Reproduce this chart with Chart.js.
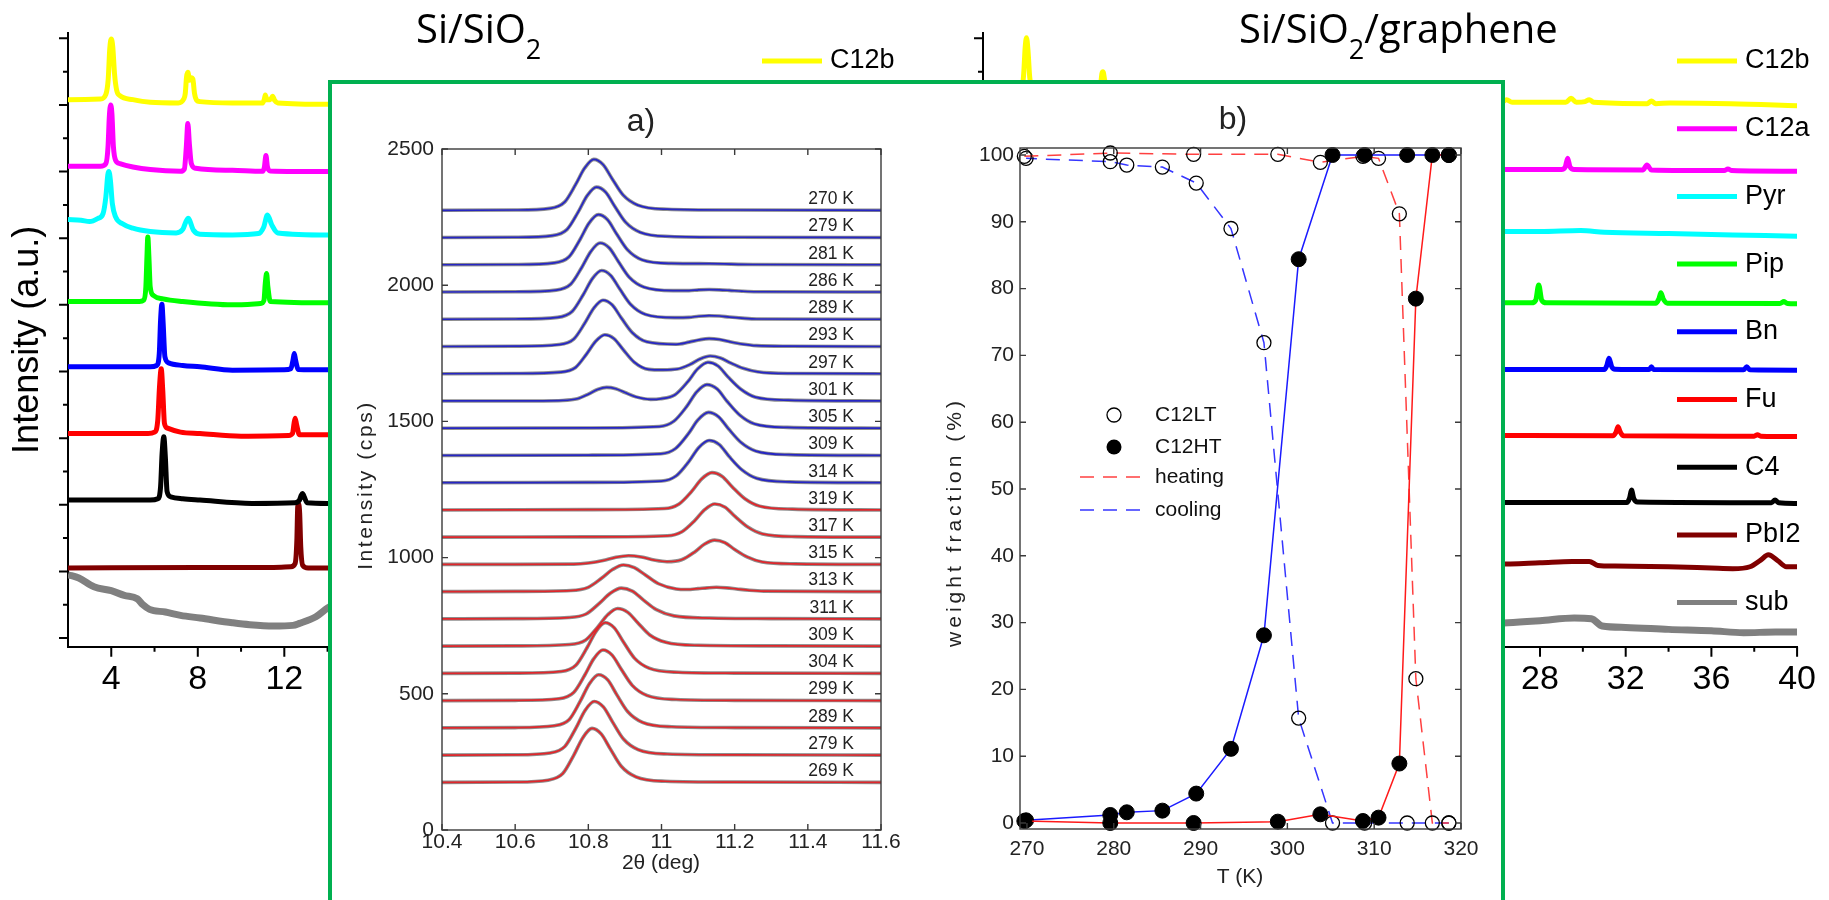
<!DOCTYPE html>
<html>
<head>
<meta charset="utf-8">
<script src="https://cdn.jsdelivr.net/npm/chart.js@4.4.1/dist/chart.umd.min.js"></script>
<style>
  body { margin: 0; width: 1829px; height: 900px; overflow: hidden; background: #fff; position: relative; }
  canvas { position: absolute; }
  #xrdLeft, #xrdRight { z-index: 1; }
  #inset { position: absolute; left: 328px; top: 80px; width: 1177px; height: 840px; border: 4px solid #00b050; box-sizing: border-box; background: #fff; z-index: 2; }
  #panelA, #panelB { z-index: 3; }
</style>
</head>
<body>
<canvas id="xrdLeft" width="960" height="720" style="left:0;top:0"></canvas>
<canvas id="xrdRight" width="914" height="720" style="left:915px;top:0"></canvas>
<div id="inset"></div>
<canvas id="panelA" width="570" height="810" style="left:340px;top:90px"></canvas>
<canvas id="panelB" width="590" height="810" style="left:905px;top:90px"></canvas>
<script>
// ---------- background XRD panels: [2theta (deg), intensity offset (a.u.)] ----------
const xrdNames = ['C12b', 'C12a', 'Pyr', 'Pip', 'Bn', 'Fu', 'C4', 'PbI2', 'sub'];
const xrdTickX = [4, 8, 12, 16, 20, 24, 28, 32, 36, 40];
const xrdTickY0 = 0.13; // first y tick above the x axis

// Si/SiO2 (only the part left of the inset is visible)
const siC12b = [[2,8.21],[3.5,8.22],[3.75,8.29],[3.86,8.52],[3.93,8.97],[4.0,9.12],[4.07,9.0],[4.15,8.6],[4.25,8.35],[4.4,8.27],[5,8.21],[5.8,8.17],[7.1,8.16],[7.35,8.22],[7.42,8.3],[7.48,8.55],[7.54,8.62],[7.62,8.5],[7.7,8.54],[7.77,8.52],[7.85,8.3],[7.95,8.2],[8.1,8.18],[9.6,8.16],[11.0,8.16],[11.08,8.22],[11.12,8.28],[11.2,8.21],[11.35,8.21],[11.46,8.26],[11.55,8.2],[11.7,8.16],[14,8.14],[15,8.14]];
const siC12a = [[2,7.21],[3.5,7.21],[3.75,7.25],[3.85,7.5],[3.91,7.95],[3.97,8.13],[4.03,8.0],[4.1,7.5],[4.2,7.3],[4.4,7.25],[5,7.2],[5.8,7.16],[7.2,7.135],[7.38,7.17],[7.47,7.5],[7.54,7.85],[7.61,7.55],[7.7,7.25],[7.9,7.18],[9.6,7.15],[11.0,7.135],[11.08,7.2],[11.15,7.37],[11.22,7.2],[11.35,7.14],[14,7.13],[15,7.13]];
const siPyr = [[2,6.41],[2.6,6.4],[3.0,6.38],[3.4,6.43],[3.62,6.5],[3.75,6.75],[3.84,7.08],[3.89,7.13],[3.96,7.0],[4.05,6.65],[4.2,6.45],[4.5,6.35],[5,6.28],[5.8,6.23],[7.0,6.21],[7.3,6.26],[7.55,6.43],[7.8,6.25],[8.1,6.19],[9.6,6.18],[10.8,6.2],[11.05,6.3],[11.22,6.48],[11.42,6.33],[11.7,6.21],[14,6.18],[15,6.18]];
const siPip = [[2,5.18],[5.3,5.18],[5.5,5.2],[5.6,5.4],[5.65,5.85],[5.69,6.15],[5.74,5.85],[5.8,5.4],[5.95,5.27],[6.4,5.22],[7.3,5.18],[9.6,5.13],[10.9,5.15],[11.06,5.2],[11.12,5.45],[11.18,5.6],[11.24,5.4],[11.35,5.18],[14,5.16],[15,5.16]];
const siBn = [[2,4.2],[5.8,4.2],[6.1,4.22],[6.22,4.4],[6.28,4.9],[6.34,5.14],[6.4,4.85],[6.48,4.35],[6.65,4.26],[7.3,4.22],[8.1,4.2],[9.6,4.15],[12.0,4.155],[12.3,4.17],[12.4,4.3],[12.46,4.4],[12.52,4.3],[12.65,4.16],[14,4.155],[15,4.155]];
const siFu = [[2,3.2],[5.7,3.2],[6.0,3.22],[6.15,3.4],[6.23,3.9],[6.31,4.17],[6.38,3.85],[6.46,3.35],[6.6,3.28],[7.2,3.22],[8.1,3.2],[10,3.16],[12.2,3.17],[12.38,3.2],[12.45,3.35],[12.5,3.43],[12.57,3.33],[12.7,3.18],[14,3.18],[15,3.18]];
const siC4 = [[2,2.2],[5.8,2.2],[6.15,2.22],[6.28,2.4],[6.35,2.9],[6.43,3.15],[6.5,2.85],[6.58,2.33],[6.75,2.25],[7.3,2.22],[8.1,2.2],[10.5,2.15],[12.5,2.16],[12.7,2.2],[12.78,2.27],[12.84,2.3],[12.92,2.25],[13.05,2.16],[14,2.15],[15,2.15]];
const siPbI2 = [[2,1.18],[8,1.19],[11.5,1.19],[12.3,1.2],[12.5,1.25],[12.58,1.6],[12.62,2.1],[12.66,2.14],[12.71,2.0],[12.76,1.5],[12.85,1.22],[13.1,1.18],[14,1.18],[15,1.18]];
const siSub = [[2,1.08],[2.5,1.03],[3.2,0.9],[4.0,0.84],[4.6,0.77],[5.2,0.72],[5.46,0.63],[5.77,0.56],[6.5,0.52],[7.2,0.47],[8.1,0.43],[9.6,0.36],[10.4,0.33],[11.5,0.31],[12.4,0.32],[12.7,0.35],[13.46,0.45],[14.0,0.58],[14.5,0.66],[15,0.72]];

// Si/SiO2/graphene (right part and the yellow peaks above the inset)
const grC12b = [[2,8.21],[3.5,8.22],[3.8,8.3],[3.9,8.6],[3.97,9.0],[4.03,9.14],[4.1,8.95],[4.18,8.55],[4.3,8.33],[4.5,8.26],[5.5,8.2],[7.2,8.17],[7.45,8.3],[7.55,8.6],[7.6,8.63],[7.68,8.5],[7.8,8.3],[8.0,8.2],[9,8.18],[26.2,8.17],[26.44,8.21],[26.7,8.17],[29.2,8.17],[29.45,8.23],[29.7,8.17],[30.1,8.18],[30.3,8.21],[30.5,8.17],[33.0,8.15],[33.2,8.19],[33.4,8.15],[34.07,8.16],[36.9,8.15],[40,8.12]];
const grC12a = [[25,7.16],[29.0,7.16],[29.18,7.2],[29.29,7.33],[29.4,7.2],[29.6,7.16],[32.8,7.155],[32.99,7.23],[33.2,7.155],[36.6,7.145],[36.77,7.17],[36.95,7.145],[40,7.135]];
const grPyr = [[25,6.23],[28,6.23],[29.9,6.245],[31,6.22],[34,6.2],[37,6.18],[40,6.16]];
const grPip = [[25,5.16],[27.6,5.16],[27.8,5.2],[27.94,5.43],[28.08,5.2],[28.3,5.16],[33.4,5.155],[33.55,5.22],[33.64,5.31],[33.75,5.22],[33.95,5.155],[39.2,5.15],[39.39,5.18],[39.55,5.15],[40,5.145]];
const grBn = [[25,4.16],[31.0,4.16],[31.12,4.22],[31.22,4.33],[31.35,4.2],[31.5,4.165],[33.1,4.16],[33.2,4.2],[33.3,4.16],[37.5,4.155],[37.65,4.2],[37.8,4.155],[40,4.15]];
const grFu = [[25,3.17],[31.4,3.165],[31.55,3.22],[31.64,3.3],[31.75,3.22],[31.9,3.165],[38.0,3.16],[38.15,3.18],[38.3,3.16],[40,3.155]];
const grC4 = [[25,2.165],[32.05,2.165],[32.18,2.23],[32.27,2.35],[32.38,2.22],[32.55,2.17],[38.8,2.16],[38.97,2.2],[39.15,2.16],[40,2.15]];
const grPbI2 = [[25,1.24],[26,1.24],[28,1.26],[29.5,1.28],[30.3,1.28],[30.7,1.22],[31.5,1.21],[34,1.2],[36,1.18],[37,1.17],[37.8,1.2],[38.3,1.3],[38.66,1.38],[39.1,1.29],[39.5,1.2],[40,1.2]];
const grSub = [[25,0.35],[26.5,0.36],[28,0.39],[29.6,0.43],[30.4,0.42],[30.9,0.31],[32,0.29],[34,0.26],[36,0.24],[37.5,0.21],[39,0.22],[40,0.22]];

// ---------- panel a): scans [2theta, counts above the trace offset] ----------
const coolTemps = [270, 279, 281, 286, 289, 293, 297, 301, 305, 309, 314];
const heatTemps = [319, 317, 315, 313, 311, 309, 304, 299, 289, 279, 269];
const scanBase = [2275, 2175, 2075, 1975, 1875, 1775, 1675, 1575, 1475, 1375, 1275, 1175, 1075, 975, 875, 775, 675, 575, 475, 375, 275, 175];
const aTickX = [10.4, 10.6, 10.8, 11, 11.2, 11.4, 11.6];
const aTickY = [0, 500, 1000, 1500, 2000, 2500];

const c270 = [[10.4,0],[10.6,1],[10.695,7],[10.735,30],[10.765,94],[10.79,155],[10.815,187],[10.84,168],[10.865,116],[10.895,56],[10.935,19],[11.015,4],[11.2,1],[11.6,0]];
const c279 = [[10.4,0],[10.6,1],[10.702,7],[10.742,30],[10.772,93],[10.797,154],[10.822,185],[10.847,167],[10.872,115],[10.902,56],[10.942,19],[11.022,4],[11.2,1],[11.6,0]];
const c281 = [[10.4,0],[10.6,1],[10.707,7],[10.747,29],[10.777,92],[10.802,153],[10.827,184],[10.852,166],[10.877,114],[10.907,55],[10.947,18],[11.027,5],[11.13,4],[11.25,1],[11.6,0]];
const c286 = [[10.4,0],[10.6,1],[10.712,7],[10.752,29],[10.782,90],[10.807,149],[10.832,180],[10.857,162],[10.882,112],[10.912,54],[10.952,18],[11.032,5],[11.075,5],[11.102,8],[11.13,9],[11.158,8],[11.185,6],[11.22,3],[11.26,1],[11.6,0]];
const c289 = [[10.4,0],[10.6,1],[10.716,7],[10.756,29],[10.786,90],[10.811,149],[10.836,179],[10.861,161],[10.886,111],[10.916,54],[10.956,18],[11.036,6],[11.075,7],[11.102,11],[11.13,13],[11.158,12],[11.185,8],[11.22,4],[11.26,1],[11.6,0]];
const c293 = [[10.4,0],[10.6,1],[10.72,7],[10.76,27],[10.79,85],[10.815,141],[10.84,170],[10.865,153],[10.89,105],[10.92,51],[10.96,17],[11.04,8],[11.075,16],[11.102,24],[11.13,29],[11.158,26],[11.185,18],[11.22,9],[11.26,3],[11.35,1],[11.6,0]];
const c297 = [[10.4,0],[10.6,1],[10.725,6],[10.765,23],[10.795,72],[10.82,119],[10.845,143],[10.87,129],[10.895,89],[10.925,43],[10.965,16],[11.003,14],[11.043,17],[11.078,34],[11.105,54],[11.133,65],[11.161,58],[11.188,40],[11.223,20],[11.263,7],[11.353,1],[11.6,0]];
const c301 = [[10.4,0],[10.6,0],[10.73,2],[10.77,8],[10.8,25],[10.825,42],[10.85,50],[10.875,45],[10.9,31],[10.93,15],[10.97,6],[10.997,8],[11.037,23],[11.072,71],[11.099,118],[11.127,142],[11.155,128],[11.182,88],[11.217,43],[11.257,14],[11.347,3],[11.6,0]];
const c305 = [[10.4,0],[10.8,1],[10.994,6],[11.034,26],[11.069,80],[11.096,133],[11.124,160],[11.152,144],[11.179,99],[11.214,48],[11.254,16],[11.344,3],[11.6,0]];
const c309 = [[10.4,0],[10.8,1],[10.998,6],[11.038,25],[11.073,79],[11.1,131],[11.128,158],[11.156,142],[11.183,98],[11.218,47],[11.258,16],[11.348,3],[11.6,0]];
const c314 = [[10.4,0],[10.8,1],[11.0,6],[11.04,25],[11.075,78],[11.102,129],[11.13,155],[11.158,140],[11.185,96],[11.22,47],[11.26,16],[11.35,3],[11.6,0]];

const h319 = [[10.4,0],[10.8,1],[11.008,5],[11.048,22],[11.083,69],[11.11,114],[11.138,137],[11.166,123],[11.193,85],[11.228,41],[11.268,14],[11.358,3],[11.6,0]];
const h317 = [[10.4,0],[10.8,1],[11.016,5],[11.056,20],[11.091,61],[11.118,101],[11.146,122],[11.174,110],[11.201,76],[11.236,37],[11.276,12],[11.366,2],[11.6,0]];
const h315 = [[10.4,0],[10.6,0],[10.76,1],[10.8,5],[10.84,14],[10.875,26],[10.91,32],[10.945,27],[10.98,16],[11.015,10],[11.055,17],[11.09,45],[11.117,74],[11.145,89],[11.173,80],[11.2,55],[11.235,27],[11.275,9],[11.365,2],[11.6,0]];
const h313 = [[10.4,0],[10.6,1],[10.752,4],[10.8,16],[10.836,49],[10.866,81],[10.896,98],[10.926,88],[10.956,61],[10.992,29],[11.04,10],[11.07,8],[11.1,11],[11.125,14],[11.15,16],[11.178,14],[11.205,10],[11.24,5],[11.28,2],[11.6,0]];
const h311 = [[10.4,0],[10.6,1],[10.746,5],[10.794,18],[10.83,57],[10.86,94],[10.89,113],[10.92,102],[10.95,70],[10.986,34],[11.034,11],[11.13,3],[11.3,1],[11.6,0]];
const h309 = [[10.4,0],[10.6,1],[10.748,6],[10.792,22],[10.825,69],[10.853,115],[10.88,138],[10.908,124],[10.935,86],[10.968,41],[11.012,14],[11.1,3],[11.3,1],[11.6,0]];
const h304 = [[10.4,0],[10.6,1],[10.726,7],[10.766,30],[10.796,93],[10.821,154],[10.846,186],[10.871,167],[10.896,115],[10.926,56],[10.966,19],[11.046,4],[11.2,1],[11.6,0]];
const h299 = [[10.4,0],[10.6,1],[10.72,7],[10.76,30],[10.79,93],[10.815,154],[10.84,186],[10.865,167],[10.89,115],[10.92,56],[10.96,19],[11.04,4],[11.2,1],[11.6,0]];
const h289 = [[10.4,0],[10.6,1],[10.708,8],[10.748,31],[10.778,98],[10.803,162],[10.828,195],[10.853,176],[10.878,121],[10.908,59],[10.948,20],[11.028,4],[11.2,1],[11.6,0]];
const h279 = [[10.4,0],[10.6,1],[10.696,8],[10.736,32],[10.766,99],[10.791,164],[10.816,197],[10.841,177],[10.866,122],[10.896,59],[10.936,20],[11.016,4],[11.2,1],[11.6,0]];
const h269 = [[10.4,0],[10.6,1],[10.69,8],[10.73,32],[10.76,99],[10.785,164],[10.81,198],[10.835,178],[10.86,123],[10.89,59],[10.93,20],[11.01,4],[11.2,1],[11.6,0]];

const coolScans = [c270, c279, c281, c286, c289, c293, c297, c301, c305, c309, c314];
const heatScans = [h319, h317, h315, h313, h311, h309, h304, h299, h289, h279, h269];

// ---------- panel b): weight fraction (%) vs T (K) ----------
const heatT  = [269.7, 279.6, 289.2, 298.9, 303.8, 308.7, 310.5, 312.9, 314.8, 316.7, 318.6];
const heatLT = [99.8, 100.3, 100.1, 100.1, 98.9, 99.8, 99.5, 91.2, 21.6, 0, 0];
const heatHT = [0.3, 0, 0, 0.2, 1.3, 0.3, 0.8, 8.9, 78.5, 100, 100];
const coolT  = [318.6, 313.8, 308.9, 305.2, 301.3, 297.3, 293.5, 289.5, 285.6, 281.5, 279.6, 269.9];
const coolLT = [0, 0, 0, 0, 15.7, 71.9, 89.0, 95.8, 98.2, 98.5, 99.0, 99.5];
const coolHT = [100, 100, 100, 100, 84.4, 28.1, 11.1, 4.4, 1.85, 1.6, 1.2, 0.4];
const bTickX = [270, 280, 290, 300, 310, 320];
const bTickY = [0, 10, 20, 30, 40, 50, 60, 70, 80, 90, 100];
const bLegendLabels = ['C12LT', 'C12HT', 'heating', 'cooling'];

Chart.defaults.font.family = '"Liberation Sans", Arial, sans-serif';
Chart.defaults.color = '#000';

const xrdColors = ['#ffff00', '#ff00ff', '#00ffff', '#00ff00', '#0000ff', '#ff0000', '#000000', '#800000', '#808080'];
const pairs = (xs, ys) => xs.map((x, i) => ({x, y: ys[i]}));
const fixTicks = vals => s => { s.ticks = vals.map(v => ({value: v})); };

// free text (titles, rotated axis labels) in page coordinates
function textLayer(items, ox, oy) {
  return {
    id: 'textLayer',
    afterDraw(chart) {
      const ctx = chart.ctx;
      items.forEach(it => {
        ctx.save();
        ctx.translate(it.x - ox, it.y - oy);
        if (it.rotate) ctx.rotate(it.rotate);
        ctx.fillStyle = it.color || '#000';
        ctx.textBaseline = it.baseline || 'alphabetic';
        ctx.textAlign = 'left';
        ctx.letterSpacing = (it.spacing || 0) + 'px';
        const fam = it.family || '"Liberation Sans", Arial, sans-serif';
        let w = 0;
        const parts = it.parts.map(p => {
          ctx.font = p.size + 'px ' + fam;
          const pw = ctx.measureText(p.t).width;
          w += pw;
          return {...p, w: pw};
        });
        let cx = it.align === 'center' ? -w / 2 : 0;
        parts.forEach(p => {
          ctx.font = p.size + 'px ' + fam;
          ctx.fillText(p.t, cx, p.dy || 0);
          cx += p.w;
        });
        ctx.restore();
      });
    }
  };
}

// outward major/minor ticks of the XRD panels
const xrdTicks = {
  id: 'xrdTicks',
  afterDraw(chart) {
    const {ctx, chartArea: a, scales: {x, y}} = chart;
    ctx.save();
    ctx.strokeStyle = '#000';
    ctx.lineWidth = 2;
    ctx.beginPath();
    for (let k = 0; k <= 18; k++) {
      const py = y.getPixelForValue(xrdTickY0 + k * 0.5);
      const len = k % 2 ? 5 : 9;
      ctx.moveTo(a.left - len, py); ctx.lineTo(a.left, py);
    }
    for (let v = 4; v <= 40; v += 2) {
      const px = x.getPixelForValue(v);
      const len = v % 4 ? 5 : 10;
      ctx.moveTo(px, a.bottom); ctx.lineTo(px, a.bottom + len);
    }
    ctx.stroke();
    ctx.restore();
  }
};

const xrdLegend = {
  id: 'xrdLegend',
  afterDatasetsDraw(chart) {
    const {ctx, chartArea: a} = chart;
    ctx.save();
    ctx.font = '27px "Liberation Sans", Arial, sans-serif';
    ctx.textBaseline = 'middle';
    ctx.fillStyle = '#000';
    ctx.lineWidth = 5;
    chart.data.datasets.forEach((ds, i) => {
      const yy = 61 + 67.7 * i;
      ctx.strokeStyle = ds.borderColor;
      ctx.beginPath(); ctx.moveTo(a.left + 694, yy); ctx.lineTo(a.left + 754, yy); ctx.stroke();
      ctx.fillText(ds.label, a.left + 762, yy);
    });
    ctx.restore();
  }
};

function xrdChart(id, traces, ox, rightPad, texts, showTitle) {
  return new Chart(document.getElementById(id), {
    type: 'line',
    data: {
      datasets: traces.map((pts, i) => ({
        label: xrdNames[i],
        data: pts.map(([x, y]) => ({x, y})),
        borderColor: xrdColors[i],
        borderWidth: i === 8 ? 7 : 5,
        borderJoinStyle: 'round',
        pointRadius: 0,
        cubicInterpolationMode: 'monotone'
      }))
    },
    options: {
      responsive: false, animation: false, events: [],
      layout: {padding: {top: 33, right: rightPad}},
      plugins: {legend: {display: false}, tooltip: {enabled: false}},
      scales: {
        x: {
          type: 'linear', min: 2, max: 40,
          afterBuildTicks: fixTicks(xrdTickX),
          ticks: {font: {size: 34}, color: '#000', padding: 13, autoSkip: false, maxRotation: 0},
          grid: {display: false, drawTicks: false},
          border: {color: '#000', width: 2},
          afterFit: s => { s.height = 73.3; }
        },
        y: {
          type: 'linear', min: 0, max: 9.21,
          ticks: {display: false},
          grid: {display: false, drawTicks: false},
          border: {color: '#000', width: 2},
          title: {display: showTitle, text: 'Intensity (a.u.)', font: {size: 36}, color: '#000', padding: {top: 6, bottom: 0}},
          afterFit: s => { s.width = 68; }
        }
      }
    },
    plugins: [xrdTicks, xrdLegend, textLayer(texts, ox, 0)]
  });
}

xrdChart('xrdLeft', [siC12b, siC12a, siPyr, siPip, siBn, siFu, siC4, siPbI2, siSub], 0, 70,
  [{x: 416, y: 43, family: '"Open Sans", sans-serif', parts: [{t: 'Si/SiO', size: 40}, {t: '2', size: 27, dy: 16}]}], true);
xrdChart('xrdRight', [grC12b, grC12a, grPyr, grPip, grBn, grFu, grC4, grPbI2, grSub], 915, 24,
  [{x: 1239, y: 43, family: '"Open Sans", sans-serif', parts: [{t: 'Si/SiO', size: 40}, {t: '2', size: 27, dy: 16}, {t: '/graphene', size: 40}]}], false);

// box frame with inward ticks (inset panels)
const boxFrame = {
  id: 'boxFrame',
  afterDraw(chart) {
    const {ctx, chartArea: a, scales: {x, y}} = chart;
    const len = 6;
    ctx.save();
    ctx.strokeStyle = '#3a3a3a';
    ctx.lineWidth = 1.4;
    ctx.strokeRect(a.left, a.top, a.right - a.left, a.bottom - a.top);
    ctx.beginPath();
    x.ticks.forEach(t => {
      const px = x.getPixelForValue(t.value);
      ctx.moveTo(px, a.bottom); ctx.lineTo(px, a.bottom - len);
      ctx.moveTo(px, a.top); ctx.lineTo(px, a.top + len);
    });
    y.ticks.forEach(t => {
      const py = y.getPixelForValue(t.value);
      ctx.moveTo(a.left, py); ctx.lineTo(a.left + len, py);
      ctx.moveTo(a.right, py); ctx.lineTo(a.right - len, py);
    });
    ctx.stroke();
    ctx.restore();
  }
};

// ---------- panel a ----------
const aSets = [];
[...coolScans, ...heatScans].forEach((scan, i) => {
  const pts = scan.map(([x, v]) => ({x, y: scanBase[i] + v}));
  const col = i < coolScans.length ? '#2626c4' : '#e0262b';
  aSets.push({data: pts, borderColor: '#8e8e8e', borderWidth: 3.6, pointRadius: 0, cubicInterpolationMode: 'monotone', order: 2});
  aSets.push({data: pts, borderColor: col, borderWidth: 1.7, pointRadius: 0, cubicInterpolationMode: 'monotone', order: 1});
});

const tempLabels = {
  id: 'tempLabels',
  afterDatasetsDraw(chart) {
    const {ctx, chartArea: a, scales: {y}} = chart;
    ctx.save();
    ctx.font = '17.5px "Liberation Sans", Arial, sans-serif';
    ctx.textAlign = 'right';
    ctx.textBaseline = 'middle';
    ctx.fillStyle = '#222';
    [...coolTemps, ...heatTemps].forEach((t, i) => {
      ctx.fillText(t + ' K', a.right - 27, y.getPixelForValue(scanBase[i]) - 11);
    });
    ctx.restore();
  }
};

new Chart(document.getElementById('panelA'), {
  type: 'line',
  data: {datasets: aSets},
  options: {
    responsive: false, animation: false, events: [],
    layout: {padding: {top: 59, right: 29}},
    plugins: {legend: {display: false}, tooltip: {enabled: false}},
    scales: {
      x: {
        type: 'linear', min: 10.4, max: 11.6,
        afterBuildTicks: fixTicks(aTickX),
        ticks: {font: {size: 21}, color: '#222', padding: 0, autoSkip: false, maxRotation: 0, callback: v => String(+v.toFixed(1))},
        grid: {display: false, drawTicks: false},
        border: {display: false},
        afterFit: s => { s.height = 70; }
      },
      y: {
        type: 'linear', min: 0, max: 2500,
        afterBuildTicks: fixTicks(aTickY),
        ticks: {font: {size: 21}, color: '#222', padding: 8, callback: v => String(v)},
        grid: {display: false, drawTicks: false},
        border: {display: false},
        afterFit: s => { s.width = 102; }
      }
    }
  },
  plugins: [boxFrame, tempLabels, textLayer([
    {x: 641, y: 122, align: 'center', baseline: 'middle', color: '#222', parts: [{t: 'a)', size: 32}]},
    {x: 366, y: 485, align: 'center', baseline: 'middle', rotate: -Math.PI / 2, spacing: 2.6, color: '#222', parts: [{t: 'Intensity (cps)', size: 21}]},
    {x: 661, y: 863, align: 'center', baseline: 'middle', color: '#222', parts: [{t: '2θ (deg)', size: 21}]}
  ], 340, 90)]
});

// ---------- panel b ----------
const redSolid = '#ff1a1a', redDash = '#ff4040', blueSolid = '#1a1aff', blueDash = '#3535ff';
const filledPt = {pointRadius: 7.5, pointBackgroundColor: '#000', pointBorderColor: '#000', pointBorderWidth: 1};
const openPt = {pointRadius: 7, pointBackgroundColor: 'rgba(0,0,0,0)', pointBorderColor: '#000', pointBorderWidth: 1.3};

const bLegend = {
  id: 'bLegend',
  afterDraw(chart) {
    const {ctx, chartArea: a} = chart;
    const rows = [267, 299, 329, 362];
    ctx.save();
    ctx.font = '21px "Liberation Sans", Arial, sans-serif';
    ctx.textBaseline = 'middle';
    ctx.fillStyle = '#111';
    bLegendLabels.forEach((lab, i) => {
      const yy = a.top + rows[i];
      const mx = a.left + 94;
      ctx.save();
      if (i === 0) {
        ctx.strokeStyle = '#000'; ctx.lineWidth = 1.3;
        ctx.beginPath(); ctx.arc(mx, yy, 7, 0, 2 * Math.PI); ctx.stroke();
      } else if (i === 1) {
        ctx.fillStyle = '#000';
        ctx.beginPath(); ctx.arc(mx, yy, 7.5, 0, 2 * Math.PI); ctx.fill();
      } else {
        ctx.strokeStyle = i === 2 ? redDash : blueDash; ctx.lineWidth = 1.5;
        ctx.setLineDash([14, 9]);
        ctx.beginPath(); ctx.moveTo(a.left + 60, yy); ctx.lineTo(a.left + 126, yy); ctx.stroke();
      }
      ctx.restore();
      ctx.fillText(lab, a.left + 135, yy);
    });
    ctx.restore();
  }
};

new Chart(document.getElementById('panelB'), {
  type: 'line',
  data: {
    datasets: [
      {label: 'heating HT', data: pairs(heatT, heatHT), borderColor: redSolid, borderWidth: 1.5, clip: false, ...filledPt},
      {label: 'cooling HT', data: pairs(coolT, coolHT), borderColor: blueSolid, borderWidth: 1.5, clip: false, ...filledPt},
      {label: 'heating LT', data: pairs(heatT, heatLT), borderColor: redDash, borderWidth: 1.5, borderDash: [14, 9], clip: false, ...openPt},
      {label: 'cooling LT', data: pairs(coolT, coolLT), borderColor: blueDash, borderWidth: 1.5, borderDash: [14, 9], clip: false, ...openPt}
    ]
  },
  options: {
    responsive: false, animation: false, events: [],
    layout: {padding: {top: 58, right: 34}},
    plugins: {legend: {display: false}, tooltip: {enabled: false}},
    scales: {
      x: {
        type: 'linear', min: 269.2, max: 320,
        afterBuildTicks: fixTicks(bTickX),
        ticks: {font: {size: 21}, color: '#222', padding: 8, autoSkip: false, maxRotation: 0},
        grid: {display: false, drawTicks: false},
        border: {display: false},
        afterFit: s => { s.height = 71; }
      },
      y: {
        type: 'linear', min: -0.9, max: 101.05,
        afterBuildTicks: fixTicks(bTickY),
        ticks: {font: {size: 21}, color: '#222', padding: 6},
        grid: {display: false, drawTicks: false},
        border: {display: false},
        afterFit: s => { s.width = 115; }
      }
    }
  },
  plugins: [boxFrame, bLegend, textLayer([
    {x: 1233, y: 120, align: 'center', baseline: 'middle', color: '#222', parts: [{t: 'b)', size: 32}]},
    {x: 955, y: 522, align: 'center', baseline: 'middle', rotate: -Math.PI / 2, spacing: 4, color: '#222', parts: [{t: 'weight fraction (%)', size: 21}]},
    {x: 1240, y: 877, align: 'center', baseline: 'middle', color: '#222', parts: [{t: 'T (K)', size: 21}]}
  ], 905, 90)]
});
</script>
</body>
</html>
